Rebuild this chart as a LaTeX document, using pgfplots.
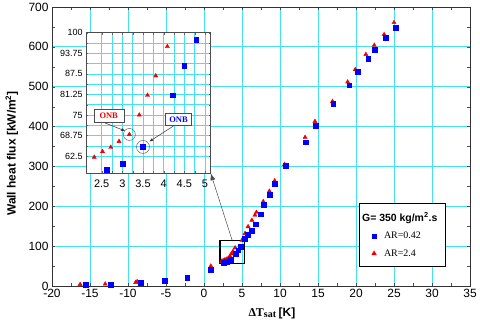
\documentclass[border=0pt]{standalone}
\usepackage{fontspec}
\setmainfont{Liberation Serif}
\setsansfont{Liberation Sans}
\usepackage{pgfplots}
\usepackage{pgfplotstable}
\pgfplotsset{compat=1.18}
\usetikzlibrary{arrows.meta}
\definecolor{gridc}{RGB}{70,225,240}
\definecolor{mblue}{RGB}{0,0,255}
\definecolor{mred}{RGB}{240,0,0}

% AR = 0.42
\pgfplotstableread{
x y
-15.6 4
-12.3 4
-8.3 8.5
-5.2 14
-2.2 21
0.9 40
2.62 58.3
3.01 60.2
3.50 65.3
4.21 81
4.50 90
4.79 97.9
5.4 119
5.8 129
6.3 138
6.8 155
7.5 180
7.9 203
8.6 230
9.3 256
10.7 301
13.4 361
14.7 402
17.0 458
19.1 504
20.2 537
21.6 570
22.5 593
23.9 623
25.2 648
}\arlow

% AR = 2.4
\pgfplotstableread{
x y
-16.3 4
-13.0 5
-9.0 9
-8.8 11
0.9 50
2.32 62.2
2.52 63.9
2.72 65.2
2.92 67
3.17 69.1
3.41 75
3.61 81
3.81 86.9
4.09 95.8
5.0 115
5.4 132
5.8 149
6.3 165
6.7 178
6.9 185
7.8 212
8.6 238
9.3 264
10.6 305
13.3 373
14.6 413
16.9 463
18.9 512
19.9 543
21.3 581
22.4 604
23.7 631
25.0 661
}\arhigh

\begin{document}
\begin{tikzpicture}
\begin{axis}[
  name=main, scale only axis, width=418bp, height=279bp,
  at={(0,0)}, anchor=south west,
  xmin=-20, xmax=35, ymin=0, ymax=700,
  xtick={-20,-15,...,35}, ytick={0,100,...,700},
  minor x tick num=1, minor y tick num=1,
  grid=major, major grid style={gridc, line width=0.8pt},
  tick align=inside, xtick pos=both, ytick pos=both,
  major tick length=3bp, minor tick length=3bp,
  axis line style={black!80, line width=0.8pt},
  tick style={black!70},
  /pgf/number format/assume math mode=true,
  tick label style={font=\sffamily\fontsize{12}{12}\selectfont},
  clip=false,
  xlabel={{\rmfamily\bfseries\fontsize{12}{12}\selectfont ΔT\raisebox{-1pt}{\fontsize{10}{10}\selectfont sat}} {\sffamily\bfseries\fontsize{12}{12}\selectfont [K]}},
  every axis x label/.style={at={(axis description cs:0.526,-0.097)}, anchor=center},
  ylabel={\sffamily\bfseries\fontsize{12}{12}\selectfont Wall heat flux [kW/m\textsuperscript{2}]},
  every axis y label/.style={at={(axis description cs:-0.096,0.475)}, anchor=center, rotate=90},
  legend style={at={(0.942,0.296)}, anchor=north east, draw=black, line width=0.9pt,
    fill=white, font=\rmfamily\fontsize{10}{10}\selectfont,
    inner xsep=6pt, inner ysep=7pt, row sep=5pt},
  legend cell align=left,
]
\addlegendimage{empty legend}
\addlegendentry{\hspace{-16pt}\sffamily\bfseries\fontsize{10.5}{10.5}\selectfont G= 350 kg/m\textsuperscript{2}.s\rule[-9pt]{0pt}{0pt}}
\addlegendimage{only marks, mark=square*, mark options={mblue, fill=mblue}, mark size=2bp}
\addlegendentry{\hspace{6pt}AR=0.42}
\addlegendimage{only marks, mark=triangle*, mark options={mred, fill=mred}, mark size=2.2bp}
\addlegendentry{\hspace{6pt}AR=2.4}

\addplot[only marks, mark=triangle*, mark size=2.4bp, mred, forget plot] table {\arhigh};
\addplot[only marks, mark=square*, mark size=2.4bp, mblue, forget plot] table {\arlow};

\draw[black, line width=1.1pt] (axis cs:2.1,57) rectangle (axis cs:5.3,115);
\coordinate (bt) at (axis cs:3.7,115);
\end{axis}

\begin{axis}[
  name=inset, scale only axis, width=124.7bp, height=140.6bp,
  at={(34bp,112.7bp)}, anchor=south west,
  xmin=2.12, xmax=5.14, ymin=57.3, ymax=100,
  xtick={2.5,3,3.5,4,4.5,5}, xticklabels={2.5,3,3.5,4,4.5,5},
  ytick={62.5,68.75,75,81.25,87.5,93.75,100},
  yticklabels={62.5,68.75,75,81.25,87.5,93.75,100},
  minor x tick num=1, minor y tick num=1,
  grid=both, grid style={gridc, line width=0.6pt},
  tick align=inside, xtick pos=both, ytick pos=both,
  major tick length=2bp, minor tick length=2bp,
  tick style={black!60},
  axis background/.style={fill=white},
  axis line style={black!70, line width=0.8pt},
  xticklabel style={font=\sffamily\fontsize{11}{11}\selectfont, yshift=-3bp},
  yticklabel style={font=\sffamily\fontsize{9}{9}\selectfont},
]
\addplot[only marks, mark=triangle*, mark size=2.4bp, mred] table {\arhigh};
\addplot[only marks, mark=square*, mark size=2.4bp, mblue] table {\arlow};

\draw[black!60, line width=0.5pt] (axis cs:3.17,69.1) circle[radius=6bp];
\draw[black!60, line width=0.5pt] (axis cs:3.50,65.3) circle[radius=6.5bp];
\node[draw=black!70, fill=white, text=mred, font=\rmfamily\bfseries\fontsize{8.5}{8.5}\selectfont,
  minimum width=30bp, minimum height=13bp, inner sep=1pt] at (axis cs:2.67,74.9) {ONB};
\node[draw=black!70, fill=white, text=mblue, font=\rmfamily\bfseries\fontsize{8.5}{8.5}\selectfont,
  minimum width=26bp, minimum height=12bp, inner sep=1pt] at (axis cs:4.36,73.7) {ONB};
\draw[black!80, line width=0.5pt, -{Stealth[length=4bp,width=3bp]}] (axis cs:2.58,72.6) -- (axis cs:3.06,70.2);
\draw[black!80, line width=0.5pt, -{Stealth[length=4bp,width=3bp]}] (axis cs:4.23,71.6) -- (axis cs:3.66,67.0);
\end{axis}

\draw[black!70, line width=0.5pt, -{Latex[length=7bp,width=5bp]}] (bt) -- (inset.south east);

\pgfresetboundingbox
\useasboundingbox (-52bp,-37bp) rectangle (428bp,286bp);
\end{tikzpicture}
\end{document}
